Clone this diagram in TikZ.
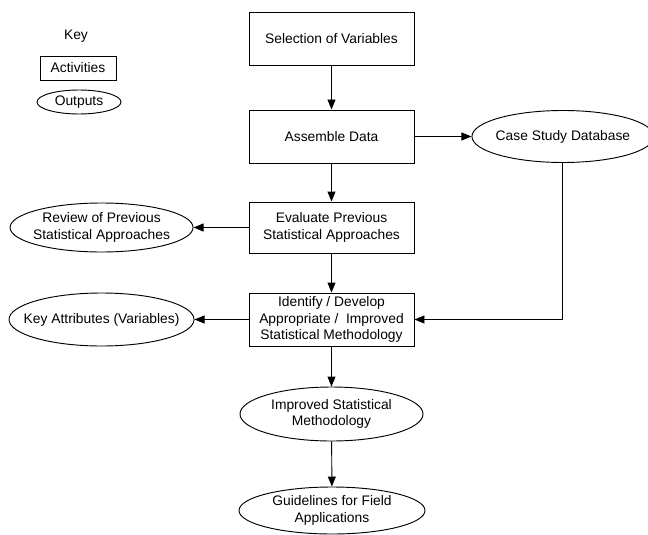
\documentclass[tikz,border=0pt]{standalone}
\usepackage{fontspec}
\setmainfont{Liberation Sans}
\usetikzlibrary{shapes.geometric,arrows.meta,positioning}

\tikzset{
  activity/.style={rectangle, draw, line width=0.8pt, minimum width=4.95cm, minimum height=1.59cm, align=center, inner sep=2pt},
  output/.style={ellipse, draw, line width=0.8pt, minimum width=5.5cm, minimum height=1.5cm, align=center, inner xsep=-0.5cm, inner ysep=-0.15cm},
  flow/.style={-{Triangle[length=0.3cm, width=0.24cm]}, line width=0.8pt},
}

\begin{document}
\begin{tikzpicture}[x=0.03cm, y=-0.03cm, font=\fontsize{11.8}{14.2}\selectfont]

    \useasboundingbox (0,0) rectangle (648,534);

    % Key
    \node (key) at (76,36) {Key};
    \node[activity, minimum width=2.28cm, minimum height=0.72cm] (keyact) at (78,68) {Activities};
    \node[output, minimum width=2.52cm, minimum height=0.72cm] (keyout) at (79,102) {Outputs};

    % Activities
    \node[activity] (select) at (331.5,38.5) {Selection of Variables};
    \node[activity] (assemble) at (331.5,136.5) {Assemble Data};
    \node[activity, minimum height=1.53cm] (evaluate) at (331.5,227.5) {Evaluate Previous\\Statistical Approaches};
    \node[activity] (identify) at (331.5,319.5) {Identify / Develop\\Appropriate /~ Improved\\Statistical Methodology};

    % Outputs
    \node[output, minimum width=5.46cm, minimum height=1.56cm, right=1.71cm of assemble] (case) {Case Study Database};
    \node[output, minimum width=5.49cm, minimum height=1.47cm, left=1.65cm of evaluate] (review) {Review of Previous\\Statistical Approaches};
    \node[output, minimum width=5.55cm, minimum height=1.59cm, left=1.62cm of identify] (keyattr) {Key Attributes (Variables)};
    \node[output, minimum width=5.49cm, minimum height=1.62cm] (improved) at (331.5,414) {Improved Statistical\\Methodology};
    \node[output, minimum width=5.58cm, minimum height=1.41cm] (guide) at (332,510.5) {Guidelines for Field\\Applications};

    % Connectors
    \draw[flow] (select) -- (assemble);
    \draw[flow] (assemble) -- (case);
    \draw[flow] (assemble) -- (evaluate);
    \draw[flow] (evaluate) -- (review);
    \draw[flow] (evaluate) -- (identify);
    \draw[flow] (identify) -- (keyattr);
    \draw[flow] (case.south) |- (identify.east);
    \draw[flow] (identify) -- (improved);
    \draw[flow] (improved) -- (guide);

\end{tikzpicture}
\end{document}
